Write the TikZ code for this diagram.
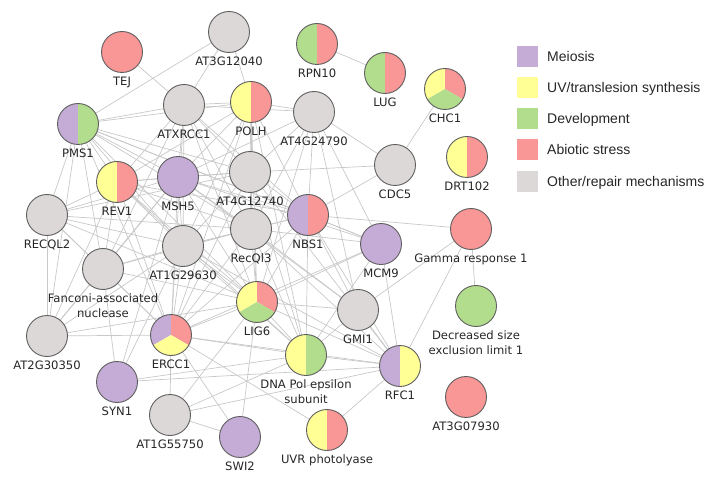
\documentclass[tikz,border=0pt]{standalone}
\usepackage{fontspec}
\newfontfamily\labfont{DejaVu Sans}
\newfontfamily\legfont{Liberation Sans}
\usetikzlibrary{calc}
\pgfdeclarelayer{background}
\pgfsetlayers{background,main}
\definecolor{cpur}{RGB}{196,172,214}
\definecolor{cyel}{RGB}{255,255,150}
\definecolor{cgrn}{RGB}{178,221,140}
\definecolor{cred}{RGB}{249,150,150}
\definecolor{cgry}{RGB}{220,216,216}
\definecolor{cbrd}{RGB}{95,95,95}
\definecolor{cedge}{RGB}{200,200,200}
\tikzset{
  gn/.style={circle, minimum size=41pt, inner sep=0pt, outer sep=0pt, draw=cbrd, line width=0.9pt},
  lab/.style={font={\labfont\fontsize{11.6}{15}\selectfont}, text=black!85, inner sep=0pt, align=center},
  every label/.style={lab},
  label distance=4pt,
  edge/.style={draw=cedge, line width=0.7pt},
  pietwo/.style 2 args={path picture={
    \fill[#1] (path picture bounding box.south west) rectangle (path picture bounding box.north);
    \fill[#2] (path picture bounding box.south) rectangle (path picture bounding box.north east);}},
  piethree/.style n args={3}{path picture={
    \begin{scope}[shift={(path picture bounding box.center)}]
    \fill[#1] (0,0) -- (90:40) -- (150:60) -- (210:40) -- cycle;
    \fill[#2] (0,0) -- (-30:40) -- (30:60) -- (90:40) -- cycle;
    \fill[#3] (0,0) -- (210:40) -- (270:60) -- (330:40) -- cycle;
    \end{scope}}},
  legbox/.style={fill=#1, minimum size=21pt, inner sep=0pt, outer sep=0pt},
  legtext/.style={font={\legfont\fontsize{14}{16}\selectfont}, text=black!85, inner sep=0pt, anchor=base west}
}
\begin{document}
\begin{tikzpicture}[x=1pt,y=1pt]
\useasboundingbox (0,0) rectangle (709,488);
% nodes
\node[gn, fill=cred, label=below:{TEJ}] (tej) at (122,436) {};
\node[gn, fill=cgry, label=below:{AT3G12040}] (at3) at (229,456) {};
\node[gn, pietwo={cgrn}{cred}, label=below:{RPN10}] (rpn) at (317,444) {};
\node[gn, pietwo={cgrn}{cred}, label=below:{LUG}] (lug) at (385,415) {};
\node[gn, piethree={cyel}{cred}{cgrn}, label=below:{CHC1}] (chc) at (445,399) {};
\node[gn, pietwo={cpur}{cgrn}, label=below:{PMS1}] (pms) at (78,364) {};
\node[gn, fill=cgry, label=below:{ATXRCC1}] (atx) at (184,383) {};
\node[gn, pietwo={cyel}{cred}, label=below:{POLH}] (polh) at (251,386) {};
\node[gn, fill=cgry, label=below:{AT4G24790}] (at4b) at (314,376) {};
\node[gn, fill=cgry, label=below:{CDC5}] (cdc) at (395,323) {};
\node[gn, pietwo={cyel}{cred}, label=below:{DRT102}] (drt) at (467,331) {};
\node[gn, pietwo={cyel}{cred}, label=below:{REV1}] (rev) at (117,306) {};
\node[gn, fill=cpur, label=below:{MSH5}] (msh) at (178,311) {};
\node[gn, fill=cgry, label=below:{AT4G12740}] (at4a) at (250,316) {};
\node[gn, fill=cgry, label=below:{RECQL2}] (recq2) at (47,273) {};
\node[gn, fill=cgry, label=below:{AT1G29630}] (at1a) at (183,242) {};
\node[gn, fill=cgry, label=below:{RecQl3}] (recq3) at (251,259) {};
\node[gn, pietwo={cpur}{cred}, label=below:{NBS1}] (nbs) at (308,273) {};
\node[gn, fill=cpur, label=below:{MCM9}] (mcm) at (381,244) {};
\node[gn, fill=cred, label=below:{Gamma response 1}] (gam) at (471,259) {};
\node[gn, fill=cgry, label=below:{Fanconi-associated\\nuclease}] (fan) at (103,219) {};
\node[gn, piethree={cyel}{cred}{cgrn}, label=below:{LIG6}] (lig) at (257,186) {};
\node[gn, fill=cgry, label=below:{GMI1}] (gmi) at (358,178) {};
\node[gn, fill=cgrn, label=below:{Decreased size\\exclusion limit 1}] (dec) at (476,182) {};
\node[gn, fill=cgry, label=below:{AT2G30350}] (at2) at (47,152) {};
\node[gn, piethree={cpur}{cred}{cyel}, label=below:{ERCC1}] (erc) at (171,153) {};
\node[gn, pietwo={cyel}{cgrn}, label=below:{DNA Pol epsilon\\subunit}] (dna) at (306,133) {};
\node[gn, pietwo={cpur}{cyel}, label=below:{RFC1}] (rfc) at (400,122) {};
\node[gn, fill=cpur, label=below:{SYN1}] (syn) at (117,106) {};
\node[gn, fill=cgry, label=below:{AT1G55750}] (at1b) at (170,73) {};
\node[gn, fill=cpur, label=below:{SWI2}] (swi) at (240,51) {};
\node[gn, pietwo={cyel}{cred}, label=below:{UVR photolyase}] (uvr) at (327,58) {};
\node[gn, fill=cred, label=below:{AT3G07930}] (at3b) at (466,91) {};
% edges
\begin{pgfonlayer}{background}
\foreach \a/\b in {tej/atx, at3/pms, at3/atx, at3/polh, rpn/lug, chc/cdc, gam/nbs, gam/gmi, gam/rfc, gam/dec,
pms/atx, pms/polh, pms/msh, pms/rev, pms/at4a, pms/recq3, pms/nbs, pms/at1a, pms/recq2, pms/fan, pms/at2, pms/erc, pms/lig, pms/mcm,
atx/polh, atx/msh, atx/at1a, atx/at4a, atx/recq3, atx/rev, atx/nbs, atx/lig, atx/erc, atx/fan, atx/at4b,
polh/at4b, polh/at4a, polh/rev, polh/msh, polh/recq3, polh/nbs, polh/lig, polh/dna, polh/erc, polh/at1a,
at4b/cdc, at4b/at4a, at4b/nbs, at4b/mcm, at4b/recq3, at4b/lig, at4b/gmi, at4b/msh,
cdc/at4a, cdc/nbs,
rev/msh, rev/recq2, rev/fan, rev/at1a, rev/at4a, rev/recq3, rev/nbs, rev/lig, rev/erc, rev/dna, rev/at2,
msh/at4a, msh/recq3, msh/at1a, msh/nbs, msh/mcm, msh/lig, msh/erc, msh/fan, msh/recq2, msh/syn, msh/gmi, msh/at2,
at4a/recq3, at4a/nbs, at4a/at1a, at4a/lig, at4a/erc, at4a/dna, at4a/rfc, at4a/recq2,
recq2/at2, recq2/fan, recq2/at1a, recq2/recq3, recq2/lig, recq2/erc,
at1a/recq3, at1a/nbs, at1a/lig, at1a/erc, at1a/fan, at1a/at2, at1a/dna, at1a/syn, at1a/rfc,
recq3/nbs, recq3/mcm, recq3/lig, recq3/erc, recq3/dna, recq3/rfc, recq3/fan, recq3/gmi,
nbs/mcm, nbs/lig, nbs/gmi, nbs/rfc, nbs/dna, nbs/erc,
mcm/lig, mcm/dna, mcm/rfc, mcm/erc,
fan/at2, fan/erc, fan/lig, fan/syn,
lig/erc, lig/dna, lig/rfc, lig/gmi, lig/swi, lig/at1b, lig/at2,
at2/erc,
erc/at1b, erc/swi, erc/dna, erc/rfc, erc/uvr,
gmi/dna, gmi/rfc,
dna/rfc, dna/at1b, dna/syn,
rfc/uvr, rfc/syn, rfc/at1b,
at1b/swi}
  \draw[edge] (\a) -- (\b);
\end{pgfonlayer}
% legend
\node[legbox=cpur] (lg1) at (527,431) {};
\node[legbox=cyel] (lg2) at (527,400) {};
\node[legbox=cgrn] (lg3) at (527,369) {};
\node[legbox=cred] (lg4) at (527,338) {};
\node[legbox=cgry] (lg5) at (527,306) {};
\node[legtext] (lt1) at (547,426) {Meiosis};
\node[legtext] (lt2) at (547,395) {UV/translesion synthesis};
\node[legtext] (lt3) at (547,364) {Development};
\node[legtext] (lt4) at (547,333) {Abiotic stress};
\node[legtext] (lt5) at (547,301) {Other/repair mechanisms};
\end{tikzpicture}
\end{document}
